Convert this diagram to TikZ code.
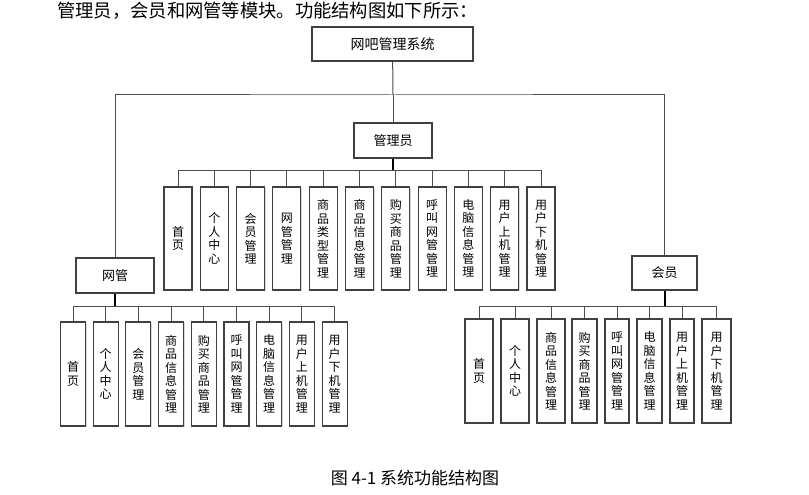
\documentclass[tikz,border=0pt]{standalone}
\usepackage{fontspec}
\setmainfont{Noto Sans CJK SC}
\usetikzlibrary{shadows}
\tikzset{
  box/.style={draw=black!75, line width=1.1pt, fill=white, inner sep=0pt, align=center,
    drop shadow={shadow xshift=1pt, shadow yshift=-1pt, fill=black!30}},
  leaf/.style={box, minimum height=104pt, font=\fontsize{12}{13.5}\selectfont},
  link/.style={draw=black!70, line width=1pt},
  stem/.style={draw=black, line width=2pt},
}

\begin{document}
\begin{tikzpicture}[x=1pt,y=-1pt]
    \useasboundingbox (0,0) rectangle (809,495);
    \pgfmathsetmacro{\glypitch}{36.3}
    \pgfmathsetmacro{\wgpitch}{32.7}
    \def\hyx{{479,515,551,584.5,617,649.5,682,716.5}}
    \def\hyw{{28,28,28,25,24,25,24,29}}
    \providecommand{\boxfontsize}{\fontsize{13}{15}\selectfont}

    \node[anchor=west, inner sep=0, font=\fontsize{18.3}{20}\selectfont] (intro) at (57,11) {管理员，会员和网管等模块。功能结构图如下所示：};

    \node[box, minimum width=161pt, minimum height=34pt, font=\fontsize{14}{16}\selectfont] (root) at (392.5,44) {网吧管理系统};
    \node[box, minimum width=78pt, minimum height=35pt, font=\boxfontsize] (mgr) at (393,140.5) {管理员};
    \node[box, minimum width=78pt, minimum height=35pt, font=\boxfontsize] (wg) at (115,275.5) {网管};
    \node[box, minimum width=65pt, minimum height=34pt, font=\boxfontsize] (hy) at (664.5,273) {会员};

    \coordinate (topbus) at (393,95);
    \draw[link] (root) -- (topbus);
    \draw[link] (topbus) -- (mgr);
    \draw[link] (wg.north) |- (topbus) -| (hy.north);

    % 管理员
    \foreach \lab [count=\i] in {{首\\页},{个\\人\\中\\心},{会\\员\\管\\理},{网\\管\\管\\理},{商\\品\\类\\型\\管\\理},{商\\品\\信\\息\\管\\理},{购\\买\\商\\品\\管\\理},{呼\\叫\\网\\管\\管\\理},{电\\脑\\信\\息\\管\\理},{用\\户\\上\\机\\管\\理},{用\\户\\下\\机\\管\\理}}
        \node[leaf, minimum width=28pt, minimum height=103pt] (gly\i) at ({178+(\i-1)*\glypitch},238.5) {\lab};
    \coordinate (glybus) at (393,170);
    \foreach \i in {1,...,11}
        \draw[link] (glybus) -| (gly\i.north);
    \draw[stem] (mgr) -- (glybus);

    % 网管
    \foreach \lab [count=\i] in {{首\\页},{个\\人\\中\\心},{会\\员\\管\\理},{商\\品\\信\\息\\管\\理},{购\\买\\商\\品\\管\\理},{呼\\叫\\网\\管\\管\\理},{电\\脑\\信\\息\\管\\理},{用\\户\\上\\机\\管\\理},{用\\户\\下\\机\\管\\理}}
        \node[leaf, minimum width=25pt] (wg\i) at ({73+(\i-1)*\wgpitch},374) {\lab};
    \coordinate (wgbus) at (115,306);
    \foreach \i in {1,...,9}
        \draw[link] (wgbus) -| (wg\i.north);
    \draw[stem] (wg) -- (wgbus);

    % 会员
    \foreach \lab [count=\i] in {{首\\页},{个\\人\\中\\心},{商\\品\\信\\息\\管\\理},{购\\买\\商\\品\\管\\理},{呼\\叫\\网\\管\\管\\理},{电\\脑\\信\\息\\管\\理},{用\\户\\上\\机\\管\\理},{用\\户\\下\\机\\管\\理}} {
        \pgfmathsetmacro{\cx}{\hyx[\i-1]}
        \pgfmathsetmacro{\cw}{\hyw[\i-1]}
        \node[leaf, minimum width=\cw pt] (hy\i) at (\cx,371) {\lab};
    }
    \coordinate (hybus) at (664.5,306);
    \foreach \i in {1,...,8}
        \draw[link] (hybus) -| (hy\i.north);
    \draw[stem] (hy) -- (hybus);

    \node[font=\fontsize{17}{19}\selectfont] (caption) at (415,478) {图 4-1 系统功能结构图};
\end{tikzpicture}
\end{document}
